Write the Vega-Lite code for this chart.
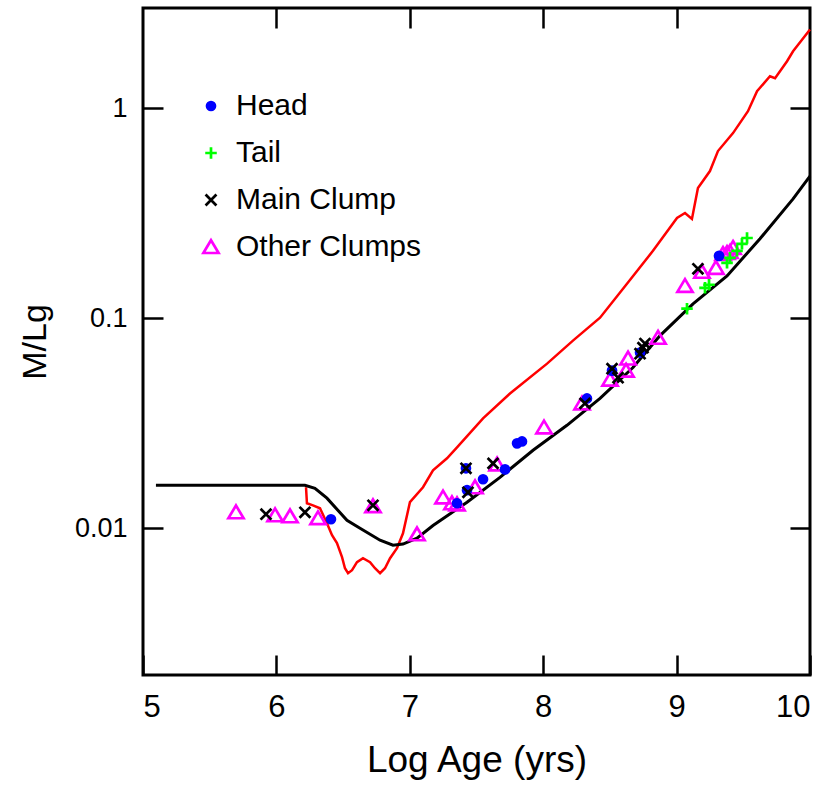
{
  "$schema": "https://vega.github.io/schema/vega-lite/v6.json",
  "width": 667,
  "height": 667,
  "autosize": {"type": "none"},
  "padding": {"left": 143, "top": 8, "right": 20, "bottom": 112},
  "background": "white",
  "config": {
    "font": "Liberation Sans",
    "view": {"stroke": "black", "strokeWidth": 3},
    "axis": {"grid": false, "domain": false, "tickColor": "black", "tickWidth": 2.5, "labelColor": "black", "titleColor": "black", "titleFontWeight": "normal", "labelFont": "Liberation Sans", "titleFont": "Liberation Sans"}
  },
  "datasets": {
    "ssp": [
      {"logAge": 6.222, "ml": 0.01567}, {"logAge": 6.229, "ml": 0.01315}, {"logAge": 6.274, "ml": 0.01285},
      {"logAge": 6.327, "ml": 0.01244}, {"logAge": 6.379, "ml": 0.01056}, {"logAge": 6.417, "ml": 0.00927},
      {"logAge": 6.454, "ml": 0.00849}, {"logAge": 6.492, "ml": 0.00728}, {"logAge": 6.514, "ml": 0.00645},
      {"logAge": 6.537, "ml": 0.00611}, {"logAge": 6.567, "ml": 0.00631}, {"logAge": 6.604, "ml": 0.00689},
      {"logAge": 6.649, "ml": 0.0072}, {"logAge": 6.702, "ml": 0.00689}, {"logAge": 6.739, "ml": 0.00645},
      {"logAge": 6.777, "ml": 0.00611}, {"logAge": 6.814, "ml": 0.00645}, {"logAge": 6.852, "ml": 0.0072},
      {"logAge": 6.904, "ml": 0.00803}, {"logAge": 6.949, "ml": 0.00946}, {"logAge": 7.001, "ml": 0.0133},
      {"logAge": 7.099, "ml": 0.01567}, {"logAge": 7.174, "ml": 0.01888}, {"logAge": 7.279, "ml": 0.02153},
      {"logAge": 7.354, "ml": 0.02428}, {"logAge": 7.549, "ml": 0.03334}, {"logAge": 7.751, "ml": 0.04378},
      {"logAge": 8.029, "ml": 0.06077}, {"logAge": 8.223, "ml": 0.0782}, {"logAge": 8.426, "ml": 0.1005},
      {"logAge": 8.628, "ml": 0.1458}, {"logAge": 8.823, "ml": 0.2094}, {"logAge": 9.003, "ml": 0.3},
      {"logAge": 9.063, "ml": 0.317}, {"logAge": 9.115, "ml": 0.297}, {"logAge": 9.16, "ml": 0.417},
      {"logAge": 9.25, "ml": 0.502}, {"logAge": 9.31, "ml": 0.625}, {"logAge": 9.423, "ml": 0.761},
      {"logAge": 9.535, "ml": 0.968}, {"logAge": 9.603, "ml": 1.205}, {"logAge": 9.7, "ml": 1.419},
      {"logAge": 9.738, "ml": 1.39}, {"logAge": 9.828, "ml": 1.673}, {"logAge": 9.873, "ml": 1.866},
      {"logAge": 10.0, "ml": 2.372}
    ],
    "csfr": [
      {"logAge": 5.097, "ml": 0.016}, {"logAge": 6.214, "ml": 0.016}, {"logAge": 6.289, "ml": 0.0155},
      {"logAge": 6.379, "ml": 0.0139}, {"logAge": 6.529, "ml": 0.0109}, {"logAge": 6.627, "ml": 0.01},
      {"logAge": 6.777, "ml": 0.00877}, {"logAge": 6.874, "ml": 0.0083}, {"logAge": 6.949, "ml": 0.0084},
      {"logAge": 7.054, "ml": 0.00896}, {"logAge": 7.174, "ml": 0.0103}, {"logAge": 7.429, "ml": 0.0133},
      {"logAge": 7.676, "ml": 0.01746}, {"logAge": 7.924, "ml": 0.0235}, {"logAge": 8.178, "ml": 0.0309},
      {"logAge": 8.426, "ml": 0.0415}, {"logAge": 8.673, "ml": 0.0582}, {"logAge": 8.876, "ml": 0.0826},
      {"logAge": 9.123, "ml": 0.117}, {"logAge": 9.378, "ml": 0.159}, {"logAge": 9.625, "ml": 0.239},
      {"logAge": 9.873, "ml": 0.37}, {"logAge": 10.0, "ml": 0.475}
    ],
    "pts": [
      {"group": "Other Clumps", "logAge": 5.697, "ml": 0.01191},
      {"group": "Other Clumps", "logAge": 5.99, "ml": 0.01153},
      {"group": "Other Clumps", "logAge": 6.102, "ml": 0.0114},
      {"group": "Other Clumps", "logAge": 6.312, "ml": 0.01116},
      {"group": "Other Clumps", "logAge": 6.724, "ml": 0.01273},
      {"group": "Other Clumps", "logAge": 7.054, "ml": 0.00936},
      {"group": "Other Clumps", "logAge": 7.249, "ml": 0.01402},
      {"group": "Other Clumps", "logAge": 7.316, "ml": 0.01315},
      {"group": "Other Clumps", "logAge": 7.354, "ml": 0.013},
      {"group": "Other Clumps", "logAge": 7.489, "ml": 0.01567},
      {"group": "Other Clumps", "logAge": 7.654, "ml": 0.02014},
      {"group": "Other Clumps", "logAge": 8.006, "ml": 0.0302},
      {"group": "Other Clumps", "logAge": 8.291, "ml": 0.0393},
      {"group": "Other Clumps", "logAge": 8.501, "ml": 0.051},
      {"group": "Other Clumps", "logAge": 8.621, "ml": 0.0563},
      {"group": "Other Clumps", "logAge": 8.636, "ml": 0.0643},
      {"group": "Other Clumps", "logAge": 8.861, "ml": 0.0807},
      {"group": "Other Clumps", "logAge": 9.063, "ml": 0.1425},
      {"group": "Other Clumps", "logAge": 9.19, "ml": 0.1664},
      {"group": "Other Clumps", "logAge": 9.295, "ml": 0.1738},
      {"group": "Other Clumps", "logAge": 9.348, "ml": 0.2023},
      {"group": "Other Clumps", "logAge": 9.378, "ml": 0.2045},
      {"group": "Other Clumps", "logAge": 9.4, "ml": 0.2068},
      {"group": "Other Clumps", "logAge": 9.423, "ml": 0.2163},
      {"group": "Head", "logAge": 6.409, "ml": 0.01103},
      {"group": "Head", "logAge": 7.354, "ml": 0.01315},
      {"group": "Head", "logAge": 7.429, "ml": 0.01517},
      {"group": "Head", "logAge": 7.421, "ml": 0.01928},
      {"group": "Head", "logAge": 7.549, "ml": 0.01711},
      {"group": "Head", "logAge": 7.714, "ml": 0.01906},
      {"group": "Head", "logAge": 7.804, "ml": 0.02535},
      {"group": "Head", "logAge": 7.841, "ml": 0.0259},
      {"group": "Head", "logAge": 8.328, "ml": 0.0415},
      {"group": "Head", "logAge": 8.516, "ml": 0.0563},
      {"group": "Head", "logAge": 8.726, "ml": 0.0686},
      {"group": "Head", "logAge": 9.318, "ml": 0.198},
      {"group": "Tail", "logAge": 9.078, "ml": 0.111},
      {"group": "Tail", "logAge": 9.213, "ml": 0.1396},
      {"group": "Tail", "logAge": 9.243, "ml": 0.1443},
      {"group": "Tail", "logAge": 9.378, "ml": 0.1836},
      {"group": "Tail", "logAge": 9.4, "ml": 0.1938},
      {"group": "Tail", "logAge": 9.453, "ml": 0.2094},
      {"group": "Tail", "logAge": 9.49, "ml": 0.226},
      {"group": "Tail", "logAge": 9.528, "ml": 0.241},
      {"group": "Main Clump", "logAge": 5.922, "ml": 0.01166},
      {"group": "Main Clump", "logAge": 6.214, "ml": 0.01191},
      {"group": "Main Clump", "logAge": 6.724, "ml": 0.01285},
      {"group": "Main Clump", "logAge": 7.421, "ml": 0.01928},
      {"group": "Main Clump", "logAge": 7.624, "ml": 0.02036},
      {"group": "Main Clump", "logAge": 7.436, "ml": 0.01483},
      {"group": "Main Clump", "logAge": 8.313, "ml": 0.0393},
      {"group": "Main Clump", "logAge": 8.516, "ml": 0.0575},
      {"group": "Main Clump", "logAge": 8.561, "ml": 0.0521},
      {"group": "Main Clump", "logAge": 8.726, "ml": 0.0678},
      {"group": "Main Clump", "logAge": 8.748, "ml": 0.0724},
      {"group": "Main Clump", "logAge": 8.763, "ml": 0.0757},
      {"group": "Main Clump", "logAge": 9.16, "ml": 0.1718}
    ]
  },
  "layer": [
    {
      "data": {"name": "ssp"},
      "mark": {"type": "line", "color": "#ff0000", "strokeWidth": 2.5},
      "encoding": {
        "x": {"field": "logAge", "type": "quantitative", "scale": {"domain": [5, 10], "nice": false, "zero": false},
          "axis": {"orient": "bottom", "values": [5, 6, 7, 8, 9, 10], "tickSize": -20, "labelPadding": 37, "labelFontSize": 31, "title": "Log Age (yrs)", "titleFontSize": 37, "titlePadding": 20}},
        "y": {"field": "ml", "type": "quantitative", "scale": {"type": "log", "domain": [0.002, 3], "nice": false},
          "axis": {"orient": "left", "values": [0.01, 0.1, 1], "format": "~g", "tickSize": -20, "labelPadding": 36, "labelFontSize": 27, "title": "M/Lg", "titleFontSize": 34, "titlePadding": 22}}
      }
    },
    {
      "data": {"name": "csfr"},
      "mark": {"type": "line", "color": "#000000", "strokeWidth": 3},
      "encoding": {
        "x": {"field": "logAge", "type": "quantitative", "axis": null},
        "y": {"field": "ml", "type": "quantitative", "axis": null}
      }
    },
    {
      "data": {"name": "pts"},
      "mark": {"type": "point", "opacity": 1, "strokeWidth": 2.7, "size": 256},
      "encoding": {
        "x": {"field": "logAge", "type": "quantitative", "axis": null},
        "y": {"field": "ml", "type": "quantitative", "axis": null},
        "shape": {"field": "group", "type": "nominal",
          "scale": {"domain": ["Head", "Tail", "Main Clump", "Other Clumps"],
            "range": ["M-0.5,0A0.5,0.5 0 1,0 0.5,0A0.5,0.5 0 1,0 -0.5,0Z", "M-0.72,0L0.72,0M0,-0.72L0,0.72", "M-0.68,-0.68L0.68,0.68M-0.68,0.68L0.68,-0.68", "M0,-0.85L0.95,0.75L-0.95,0.75Z"]},
          "legend": {"orient": "none", "legendX": 53, "legendY": 83, "title": null, "labelFontSize": 30, "labelFont": "Liberation Sans", "labelColor": "black", "labelLimit": 500, "symbolSize": 256, "symbolStrokeWidth": 2.7, "labelOffset": 10, "rowPadding": 17, "padding": 0}},
        "stroke": {"field": "group", "type": "nominal",
          "scale": {"domain": ["Head", "Tail", "Main Clump", "Other Clumps"], "range": ["#0000ff", "#00ff00", "#000000", "#ff00ff"]}},
        "fill": {"field": "group", "type": "nominal",
          "scale": {"domain": ["Head", "Tail", "Main Clump", "Other Clumps"], "range": ["#0000ff", "transparent", "transparent", "transparent"]}}
      }
    },
    {
      "mark": {"type": "text", "fontSize": 30, "align": "left", "baseline": "alphabetic", "font": "Liberation Sans", "color": "black"},
      "encoding": {"x": {"datum": 8.013, "type": "quantitative", "axis": null}, "y": {"datum": 0.72, "type": "quantitative", "axis": null}, "text": {"value": "M/L for SSP"}}
    },
    {
      "mark": {"type": "text", "fontSize": 30, "align": "left", "baseline": "alphabetic", "font": "Liberation Sans", "color": "black"},
      "encoding": {"x": {"datum": 8.411, "type": "quantitative", "axis": null}, "y": {"datum": 0.01992, "type": "quantitative", "axis": null}, "text": {"value": "M/L for"}}
    },
    {
      "mark": {"type": "text", "fontSize": 30, "align": "left", "baseline": "alphabetic", "font": "Liberation Sans", "color": "black"},
      "encoding": {"x": {"datum": 8.411, "type": "quantitative", "axis": null}, "y": {"datum": 0.01419, "type": "quantitative", "axis": null}, "text": {"value": "constant SFR"}}
    },
    {
      "data": {"name": "csfr"},
      "mark": {"type": "line", "opacity": 0},
      "encoding": {
        "x": {"field": "logAge", "type": "quantitative",
          "axis": {"orient": "top", "values": [6, 7, 8, 9], "tickSize": -20, "labels": false, "title": null}},
        "y": {"field": "ml", "type": "quantitative",
          "axis": {"orient": "right", "values": [0.01, 0.1, 1], "tickSize": -20, "labels": false, "title": null}}
      }
    }
  ],
  "resolve": {"axis": {"x": "independent", "y": "independent"}}
}
